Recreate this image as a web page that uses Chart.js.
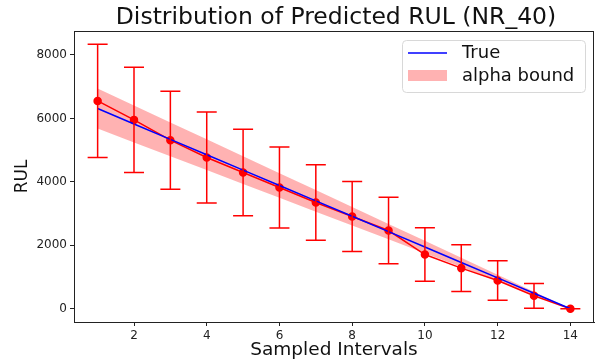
<!DOCTYPE html>
<html><head><meta charset="utf-8">
<script src="https://cdn.jsdelivr.net/npm/chart.js@4/dist/chart.umd.min.js"></script>
<style>html,body{margin:0;padding:0;background:#fff}canvas{display:block}</style>
</head><body>
<canvas id="c" width="595" height="362"></canvas>
<script>
const intervals = [1,2,3,4,5,6,7,8,9,10,11,12,13,14];
const predictedRUL = [6551,5953,5313,4766,4294,3821,3348,2907,2466,1710,1281,891,409,0];
const errorRUL = [1786,1660,1545,1433,1360,1275,1190,1105,1050,845,735,620,390,0];
const trueRUL = [6310,5825,5340,4855,4370,3885,3400,2915,2430,1945,1460,975,490,0];
const alphaUpper = [6941,6408,5874,5341,4807,4274,3740,3207,2673,2140,1606,1073,539,0];
const alphaLower = [5679,5243,4806,4370,3933,3497,3060,2624,2187,1751,1314,878,441,0];
const xTicks = [2,4,6,8,10,12,14];
const yTicks = [0,2000,4000,6000,8000];
const titleText = 'Distribution of Predicted RUL (NR_40)';

const FONT = "'DejaVu Sans', sans-serif";
const pts = arr => intervals.map((x,i)=>({x:x,y:arr[i]}));

const errorBars = {
  id:'errorBars',
  afterDatasetsDraw(chart){
    const {ctx, scales:{x,y}} = chart;
    ctx.save();
    ctx.strokeStyle = 'red';
    ctx.lineWidth = 1.5;
    intervals.forEach((xv,i)=>{
      const px = x.getPixelForValue(xv);
      const top = y.getPixelForValue(predictedRUL[i]+errorRUL[i]);
      const bot = y.getPixelForValue(predictedRUL[i]-errorRUL[i]);
      ctx.beginPath();
      ctx.moveTo(px,top); ctx.lineTo(px,bot);
      ctx.moveTo(px-10,top); ctx.lineTo(px+10,top);
      ctx.moveTo(px-10,bot); ctx.lineTo(px+10,bot);
      ctx.stroke();
    });
    ctx.restore();
  }
};

const frameAndLegend = {
  id:'frameAndLegend',
  afterDraw(chart){
    const {ctx, chartArea:a} = chart;
    ctx.save();
    ctx.strokeStyle = '#222';
    ctx.lineWidth = 1;
    ctx.strokeRect(a.left+0.5, a.top+0.5, a.right-a.left-1, a.bottom-a.top);
    // title
    ctx.fillStyle = '#111';
    ctx.font = "23.5px " + FONT;
    ctx.textAlign = 'center';
    ctx.textBaseline = 'alphabetic';
    ctx.fillText(titleText, 336, 24);
    // legend
    const bx = a.right-192, by = a.top+9, bw = 183, bh = 52;
    ctx.fillStyle = 'rgba(255,255,255,0.8)';
    ctx.strokeStyle = '#d8d8d8';
    ctx.beginPath();
    ctx.roundRect(bx+0.5, by+0.5, bw, bh, 4);
    ctx.fill(); ctx.stroke();
    ctx.strokeStyle = 'blue'; ctx.lineWidth = 1.5;
    ctx.beginPath(); ctx.moveTo(bx+6, by+13); ctx.lineTo(bx+45, by+13); ctx.stroke();
    ctx.fillStyle = 'rgba(255,0,0,0.3)';
    ctx.fillRect(bx+6, by+30, 39, 11);
    ctx.fillStyle = '#111';
    ctx.font = "18px " + FONT;
    ctx.textBaseline = 'middle';
    ctx.textAlign = 'left';
    ctx.fillText('True', bx+60, by+13);
    ctx.fillText('alpha bound', bx+60, by+36);
    ctx.restore();
  }
};

new Chart(document.getElementById('c'), {
  type:'line',
  data:{datasets:[
    {label:'lower', data:pts(alphaLower), borderWidth:0, pointRadius:0, fill:false, order:3, borderColor:'rgba(0,0,0,0)'},
    {label:'alpha bound', data:pts(alphaUpper), borderWidth:0, pointRadius:0, fill:'-1', backgroundColor:'rgba(255,0,0,0.3)', borderColor:'rgba(0,0,0,0)', order:2},
    {label:'Predicted', data:pts(predictedRUL), borderColor:'red', borderWidth:1.5, pointRadius:3.5, pointBackgroundColor:'red', pointBorderColor:'red', fill:false, order:1},
    {label:'True', data:pts(trueRUL), borderColor:'blue', borderWidth:1.5, pointRadius:0, fill:false, order:0}
  ]},
  options:{
    responsive:false, animation:false, devicePixelRatio:1,
    layout:{autoPadding:false, padding:{right:1, left:0, bottom:0, top:31}},
    plugins:{
      legend:{display:false}, tooltip:{enabled:false}, title:{display:false}
    },
    scales:{
      x:{type:'linear', min:0.35, max:14.65,
        afterBuildTicks(s){ s.ticks = xTicks.map(v=>({value:v})); },
        afterFit(s){ s.height = 40; s.paddingLeft = 0; s.paddingRight = 0; },
        grid:{display:true, drawOnChartArea:false, drawTicks:true, tickLength:4, color:'#222'},
        border:{display:true, color:'#222'},
        ticks:{color:'#222', font:{family:FONT, size:12}, padding:3, maxRotation:0},
        title:{display:true, text:'Sampled Intervals', color:'#111', font:{family:FONT, size:18.5}, padding:{top:0,bottom:1}}
      },
      y:{type:'linear', min:-417, max:8754,
        afterBuildTicks(s){ s.ticks = yTicks.map(v=>({value:v})); },
        afterFit(s){ s.width = 74; s.paddingTop = 0; s.paddingBottom = 0; },
        grid:{display:true, drawOnChartArea:false, drawTicks:true, tickLength:4, color:'#222'},
        border:{display:true, color:'#222'},
        ticks:{color:'#222', font:{family:FONT, size:12}, padding:3, callback:v=>String(v)},
        title:{display:true, text:'RUL', color:'#111', font:{family:FONT, size:17}, padding:{top:12,bottom:0}}
      }
    }
  },
  plugins:[errorBars, frameAndLegend]
});
</script>
</body></html>
